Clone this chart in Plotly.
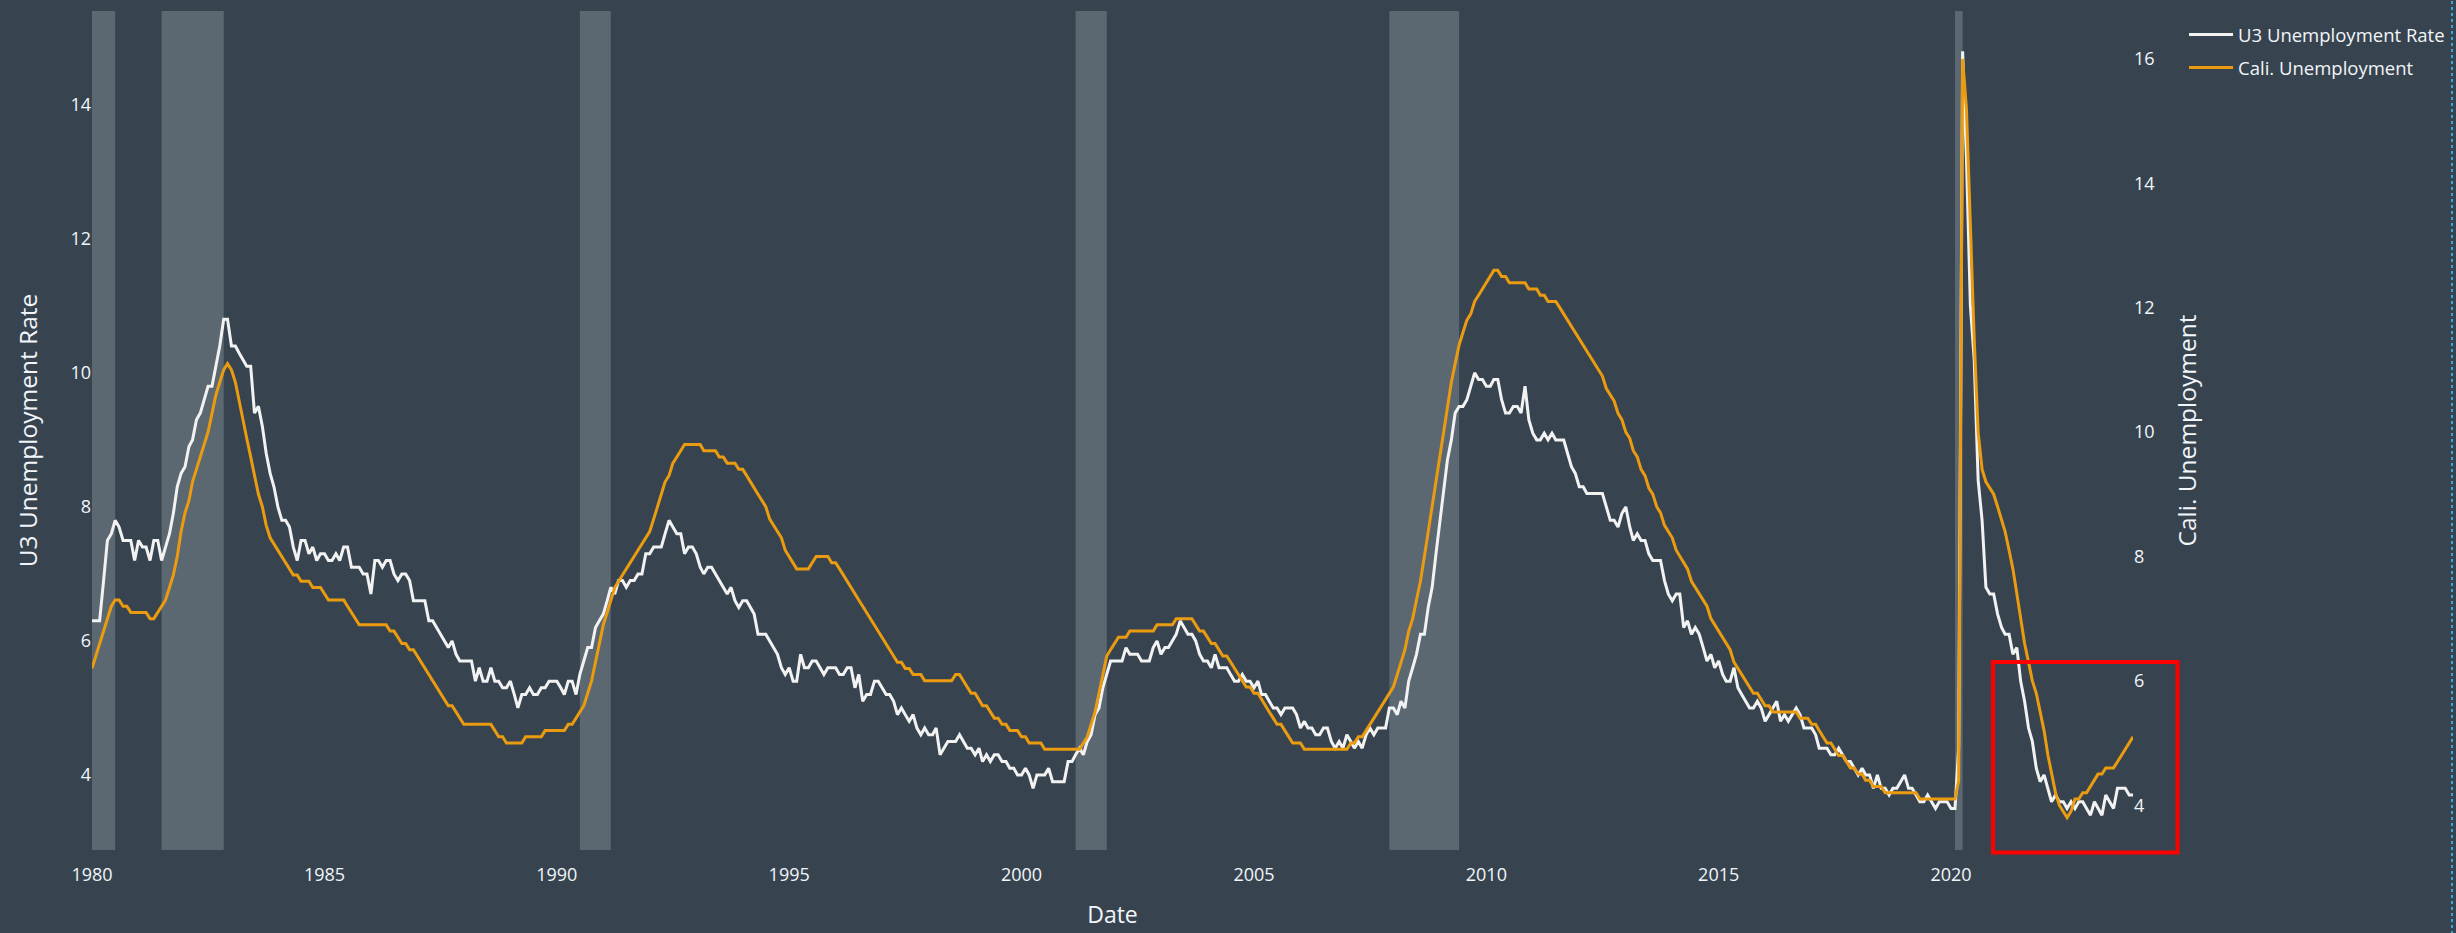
import pandas as pd
import plotly.graph_objects as go

# ---------------- data ----------------
start_month = "1980-01-01"
end_month = "2023-12-01"

u3_rate = [
    6.3, 6.3, 6.3, 6.9, 7.5, 7.6, 7.8, 7.7, 7.5, 7.5, 7.5, 7.2,   # 1980
    7.5, 7.4, 7.4, 7.2, 7.5, 7.5, 7.2, 7.4, 7.6, 7.9, 8.3, 8.5,   # 1981
    8.6, 8.9, 9.0, 9.3, 9.4, 9.6, 9.8, 9.8, 10.1, 10.4, 10.8, 10.8,  # 1982
    10.4, 10.4, 10.3, 10.2, 10.1, 10.1, 9.4, 9.5, 9.2, 8.8, 8.5, 8.3,  # 1983
    8.0, 7.8, 7.8, 7.7, 7.4, 7.2, 7.5, 7.5, 7.3, 7.4, 7.2, 7.3,   # 1984
    7.3, 7.2, 7.2, 7.3, 7.2, 7.4, 7.4, 7.1, 7.1, 7.1, 7.0, 7.0,   # 1985
    6.7, 7.2, 7.2, 7.1, 7.2, 7.2, 7.0, 6.9, 7.0, 7.0, 6.9, 6.6,   # 1986
    6.6, 6.6, 6.6, 6.3, 6.3, 6.2, 6.1, 6.0, 5.9, 6.0, 5.8, 5.7,   # 1987
    5.7, 5.7, 5.7, 5.4, 5.6, 5.4, 5.4, 5.6, 5.4, 5.4, 5.3, 5.3,   # 1988
    5.4, 5.2, 5.0, 5.2, 5.2, 5.3, 5.2, 5.2, 5.3, 5.3, 5.4, 5.4,   # 1989
    5.4, 5.3, 5.2, 5.4, 5.4, 5.2, 5.5, 5.7, 5.9, 5.9, 6.2, 6.3,   # 1990
    6.4, 6.6, 6.8, 6.7, 6.9, 6.9, 6.8, 6.9, 6.9, 7.0, 7.0, 7.3,   # 1991
    7.3, 7.4, 7.4, 7.4, 7.6, 7.8, 7.7, 7.6, 7.6, 7.3, 7.4, 7.4,   # 1992
    7.3, 7.1, 7.0, 7.1, 7.1, 7.0, 6.9, 6.8, 6.7, 6.8, 6.6, 6.5,   # 1993
    6.6, 6.6, 6.5, 6.4, 6.1, 6.1, 6.1, 6.0, 5.9, 5.8, 5.6, 5.5,   # 1994
    5.6, 5.4, 5.4, 5.8, 5.6, 5.6, 5.7, 5.7, 5.6, 5.5, 5.6, 5.6,   # 1995
    5.6, 5.5, 5.5, 5.6, 5.6, 5.3, 5.5, 5.1, 5.2, 5.2, 5.4, 5.4,   # 1996
    5.3, 5.2, 5.2, 5.1, 4.9, 5.0, 4.9, 4.8, 4.9, 4.7, 4.6, 4.7,   # 1997
    4.6, 4.6, 4.7, 4.3, 4.4, 4.5, 4.5, 4.5, 4.6, 4.5, 4.4, 4.4,   # 1998
    4.3, 4.4, 4.2, 4.3, 4.2, 4.3, 4.3, 4.2, 4.2, 4.1, 4.1, 4.0,   # 1999
    4.0, 4.1, 4.0, 3.8, 4.0, 4.0, 4.0, 4.1, 3.9, 3.9, 3.9, 3.9,   # 2000
    4.2, 4.2, 4.3, 4.4, 4.3, 4.5, 4.6, 4.9, 5.0, 5.3, 5.5, 5.7,   # 2001
    5.7, 5.7, 5.7, 5.9, 5.8, 5.8, 5.8, 5.7, 5.7, 5.7, 5.9, 6.0,   # 2002
    5.8, 5.9, 5.9, 6.0, 6.1, 6.3, 6.2, 6.1, 6.1, 6.0, 5.8, 5.7,   # 2003
    5.7, 5.6, 5.8, 5.6, 5.6, 5.6, 5.5, 5.4, 5.4, 5.5, 5.4, 5.4,   # 2004
    5.3, 5.4, 5.2, 5.2, 5.1, 5.0, 5.0, 4.9, 5.0, 5.0, 5.0, 4.9,   # 2005
    4.7, 4.8, 4.7, 4.7, 4.6, 4.6, 4.7, 4.7, 4.5, 4.4, 4.5, 4.4,   # 2006
    4.6, 4.5, 4.4, 4.5, 4.4, 4.6, 4.7, 4.6, 4.7, 4.7, 4.7, 5.0,   # 2007
    5.0, 4.9, 5.1, 5.0, 5.4, 5.6, 5.8, 6.1, 6.1, 6.5, 6.8, 7.3,   # 2008
    7.8, 8.3, 8.7, 9.0, 9.4, 9.5, 9.5, 9.6, 9.8, 10.0, 9.9, 9.9,  # 2009
    9.8, 9.8, 9.9, 9.9, 9.6, 9.4, 9.4, 9.5, 9.5, 9.4, 9.8, 9.3,   # 2010
    9.1, 9.0, 9.0, 9.1, 9.0, 9.1, 9.0, 9.0, 9.0, 8.8, 8.6, 8.5,   # 2011
    8.3, 8.3, 8.2, 8.2, 8.2, 8.2, 8.2, 8.0, 7.8, 7.8, 7.7, 7.9,   # 2012
    8.0, 7.7, 7.5, 7.6, 7.5, 7.5, 7.3, 7.2, 7.2, 7.2, 6.9, 6.7,   # 2013
    6.6, 6.7, 6.7, 6.2, 6.3, 6.1, 6.2, 6.1, 5.9, 5.7, 5.8, 5.6,   # 2014
    5.7, 5.5, 5.4, 5.4, 5.6, 5.3, 5.2, 5.1, 5.0, 5.0, 5.1, 5.0,   # 2015
    4.8, 4.9, 5.0, 5.1, 4.8, 4.9, 4.8, 4.9, 5.0, 4.9, 4.7, 4.7,   # 2016
    4.7, 4.6, 4.4, 4.4, 4.4, 4.3, 4.3, 4.4, 4.3, 4.2, 4.2, 4.1,   # 2017
    4.0, 4.1, 4.0, 4.0, 3.8, 4.0, 3.8, 3.8, 3.7, 3.8, 3.8, 3.9,   # 2018
    4.0, 3.8, 3.8, 3.7, 3.6, 3.6, 3.7, 3.6, 3.5, 3.6, 3.6, 3.6,   # 2019
    3.5, 3.5, 4.4, 14.8, 13.2, 11.0, 10.2, 8.4, 7.8, 6.8, 6.7, 6.7,  # 2020
    6.4, 6.2, 6.1, 6.1, 5.8, 5.9, 5.4, 5.1, 4.7, 4.5, 4.1, 3.9,   # 2021
    4.0, 3.8, 3.6, 3.7, 3.6, 3.6, 3.5, 3.6, 3.5, 3.6, 3.6, 3.5,   # 2022
    3.4, 3.6, 3.5, 3.4, 3.7, 3.6, 3.5, 3.8, 3.8, 3.8, 3.7, 3.7,   # 2023
]

cali_rate = [
    6.2, 6.4, 6.6, 6.8, 7.0, 7.2, 7.3, 7.3, 7.2, 7.2, 7.1, 7.1,   # 1980
    7.1, 7.1, 7.1, 7.0, 7.0, 7.1, 7.2, 7.3, 7.5, 7.7, 8.0, 8.4,   # 1981
    8.7, 8.9, 9.2, 9.4, 9.6, 9.8, 10.0, 10.3, 10.6, 10.8, 11.0, 11.1,  # 1982
    11.0, 10.8, 10.5, 10.2, 9.9, 9.6, 9.3, 9.0, 8.8, 8.5, 8.3, 8.2,  # 1983
    8.1, 8.0, 7.9, 7.8, 7.7, 7.7, 7.6, 7.6, 7.6, 7.5, 7.5, 7.5,   # 1984
    7.4, 7.3, 7.3, 7.3, 7.3, 7.3, 7.2, 7.1, 7.0, 6.9, 6.9, 6.9,   # 1985
    6.9, 6.9, 6.9, 6.9, 6.9, 6.8, 6.8, 6.7, 6.6, 6.6, 6.5, 6.5,   # 1986
    6.4, 6.3, 6.2, 6.1, 6.0, 5.9, 5.8, 5.7, 5.6, 5.6, 5.5, 5.4,   # 1987
    5.3, 5.3, 5.3, 5.3, 5.3, 5.3, 5.3, 5.3, 5.2, 5.1, 5.1, 5.0,   # 1988
    5.0, 5.0, 5.0, 5.0, 5.1, 5.1, 5.1, 5.1, 5.1, 5.2, 5.2, 5.2,   # 1989
    5.2, 5.2, 5.2, 5.3, 5.3, 5.4, 5.5, 5.6, 5.8, 6.0, 6.3, 6.6,   # 1990
    6.9, 7.1, 7.3, 7.5, 7.6, 7.7, 7.8, 7.9, 8.0, 8.1, 8.2, 8.3,   # 1991
    8.4, 8.6, 8.8, 9.0, 9.2, 9.3, 9.5, 9.6, 9.7, 9.8, 9.8, 9.8,   # 1992
    9.8, 9.8, 9.7, 9.7, 9.7, 9.7, 9.6, 9.6, 9.5, 9.5, 9.5, 9.4,   # 1993
    9.4, 9.3, 9.2, 9.1, 9.0, 8.9, 8.8, 8.6, 8.5, 8.4, 8.3, 8.1,   # 1994
    8.0, 7.9, 7.8, 7.8, 7.8, 7.8, 7.9, 8.0, 8.0, 8.0, 8.0, 7.9,   # 1995
    7.9, 7.8, 7.7, 7.6, 7.5, 7.4, 7.3, 7.2, 7.1, 7.0, 6.9, 6.8,   # 1996
    6.7, 6.6, 6.5, 6.4, 6.3, 6.3, 6.2, 6.2, 6.1, 6.1, 6.1, 6.0,   # 1997
    6.0, 6.0, 6.0, 6.0, 6.0, 6.0, 6.0, 6.1, 6.1, 6.0, 5.9, 5.8,   # 1998
    5.8, 5.7, 5.6, 5.6, 5.5, 5.4, 5.4, 5.3, 5.3, 5.2, 5.2, 5.2,   # 1999
    5.1, 5.1, 5.0, 5.0, 5.0, 5.0, 4.9, 4.9, 4.9, 4.9, 4.9, 4.9,   # 2000
    4.9, 4.9, 4.9, 4.9, 5.0, 5.1, 5.3, 5.5, 5.8, 6.1, 6.4, 6.5,   # 2001
    6.6, 6.7, 6.7, 6.7, 6.8, 6.8, 6.8, 6.8, 6.8, 6.8, 6.8, 6.9,   # 2002
    6.9, 6.9, 6.9, 6.9, 7.0, 7.0, 7.0, 7.0, 7.0, 6.9, 6.8, 6.8,   # 2003
    6.7, 6.6, 6.6, 6.5, 6.4, 6.4, 6.3, 6.2, 6.1, 6.0, 5.9, 5.9,   # 2004
    5.8, 5.8, 5.7, 5.6, 5.5, 5.4, 5.3, 5.3, 5.2, 5.1, 5.0, 5.0,   # 2005
    5.0, 4.9, 4.9, 4.9, 4.9, 4.9, 4.9, 4.9, 4.9, 4.9, 4.9, 4.9,   # 2006
    4.9, 5.0, 5.0, 5.1, 5.1, 5.2, 5.3, 5.4, 5.5, 5.6, 5.7, 5.8,   # 2007
    5.9, 6.1, 6.3, 6.5, 6.8, 7.0, 7.3, 7.6, 8.0, 8.4, 8.8, 9.2,   # 2008
    9.6, 10.0, 10.4, 10.8, 11.1, 11.4, 11.6, 11.8, 11.9, 12.1, 12.2, 12.3,  # 2009
    12.4, 12.5, 12.6, 12.6, 12.5, 12.5, 12.4, 12.4, 12.4, 12.4, 12.4, 12.3,  # 2010
    12.3, 12.3, 12.2, 12.2, 12.1, 12.1, 12.1, 12.0, 11.9, 11.8, 11.7, 11.6,  # 2011
    11.5, 11.4, 11.3, 11.2, 11.1, 11.0, 10.9, 10.7, 10.6, 10.5, 10.3, 10.2,  # 2012
    10.0, 9.9, 9.7, 9.6, 9.4, 9.3, 9.1, 9.0, 8.8, 8.7, 8.5, 8.4,   # 2013
    8.3, 8.1, 8.0, 7.9, 7.8, 7.6, 7.5, 7.4, 7.3, 7.2, 7.0, 6.9,   # 2014
    6.8, 6.7, 6.6, 6.5, 6.3, 6.2, 6.1, 6.0, 5.9, 5.8, 5.8, 5.7,   # 2015
    5.6, 5.6, 5.5, 5.5, 5.5, 5.5, 5.5, 5.5, 5.5, 5.4, 5.4, 5.4,   # 2016
    5.3, 5.3, 5.2, 5.1, 5.0, 5.0, 4.9, 4.8, 4.8, 4.7, 4.6, 4.6,   # 2017
    4.5, 4.5, 4.4, 4.4, 4.3, 4.3, 4.3, 4.2, 4.2, 4.2, 4.2, 4.2,   # 2018
    4.2, 4.2, 4.2, 4.2, 4.1, 4.1, 4.1, 4.1, 4.1, 4.1, 4.1, 4.1,   # 2019
    4.1, 4.1, 4.4, 16.0, 15.2, 13.3, 11.5, 10.0, 9.4, 9.2, 9.1, 9.0,  # 2020
    8.8, 8.6, 8.4, 8.1, 7.8, 7.4, 7.0, 6.6, 6.3, 6.0, 5.8, 5.5,   # 2021
    5.2, 4.8, 4.5, 4.2, 4.0, 3.9, 3.8, 3.9, 4.1, 4.1, 4.2, 4.2,   # 2022
    4.3, 4.4, 4.5, 4.5, 4.6, 4.6, 4.6, 4.7, 4.8, 4.9, 5.0, 5.1,   # 2023
]

recession_starts = ["1980-01-01", "1981-07-01", "1990-07-01", "2001-03-01", "2007-12-01", "2020-02-01"]
recession_ends = ["1980-07-01", "1982-11-01", "1991-03-01", "2001-11-01", "2009-06-01", "2020-04-01"]

left_ticks = [4, 6, 8, 10, 12, 14]
right_ticks = [4, 6, 8, 10, 12, 14, 16]
year_ticks = ["1980", "1985", "1990", "1995", "2000", "2005", "2010", "2015", "2020"]

# ---------------- style ----------------
BG = "#37444f"
TXT = "#f2f5fa"
ORANGE = "#eb9b0f"
WHITE = "#f2f2f2"
FONT = "Open Sans"

dates = pd.date_range(start_month, end_month, freq="MS")

fig = go.Figure()
fig.add_trace(go.Scatter(x=dates, y=u3_rate, mode="lines", name="U3 Unemployment Rate",
                         legendgroup="u3", line=dict(color=WHITE, width=3), yaxis="y"))
fig.add_trace(go.Scatter(x=dates, y=cali_rate, mode="lines", name="Cali. Unemployment",
                         legendgroup="ca", line=dict(color=ORANGE, width=3), yaxis="y2"))

shapes = []
for s, e in zip(recession_starts, recession_ends):
    shapes.append(dict(type="rect", xref="x", yref="paper", x0=s, x1=e, y0=0, y1=1,
                       fillcolor="#5c6871", line=dict(width=0), layer="below"))
# red highlight box
shapes.append(dict(type="rect", xref="paper", yref="paper", x0=0.9314, x1=1.0218,
                   y0=-0.003, y1=0.224, line=dict(color="#ff0000", width=4),
                   fillcolor="rgba(0,0,0,0)", layer="above"))
# dotted border at the right edge of the capture
shapes.append(dict(type="line", xref="paper", yref="paper", x0=1.1563, x1=1.1563,
                   y0=-0.1, y1=1.02, line=dict(color="#3da3d8", width=2, dash="dot")))

fig.update_layout(
    width=2456, height=933,
    paper_bgcolor=BG, plot_bgcolor=BG,
    font=dict(family=FONT, color=TXT, size=18),
    margin=dict(l=92, r=323, t=11, b=83, autoexpand=False),
    showlegend=True,
    legend=dict(x=1.025, y=0.994, xanchor="left", yanchor="top", bgcolor="rgba(0,0,0,0)",
                itemwidth=44, tracegroupgap=6, traceorder="grouped",
                font=dict(size=18.5, color=TXT, family=FONT)),
    shapes=shapes,
    xaxis=dict(range=[start_month, end_month], showgrid=False, zeroline=False, showline=False,
               automargin=False,
               tickvals=[y + "-01-01" for y in year_ticks], ticktext=year_ticks,
               ticks="outside", ticklen=8, tickcolor="rgba(0,0,0,0)",
               tickfont=dict(size=18, color=TXT),
               title=dict(text="Date", font=dict(size=23, color=TXT), standoff=22)),
    yaxis=dict(range=[2.88, 15.40], showgrid=False, zeroline=False, showline=False,
               automargin=False,
               tickvals=left_ticks, tickfont=dict(size=18, color=TXT),
               title=dict(text="U3 Unemployment Rate", font=dict(size=24.5, color=TXT), standoff=25)),
    yaxis2=dict(range=[3.28, 16.77], overlaying="y", side="right", showgrid=False,
                automargin=False,
                zeroline=False, showline=False, tickvals=right_ticks,
                tickfont=dict(size=18, color=TXT),
                title=dict(text="Cali. Unemployment", font=dict(size=24.5, color=TXT), standoff=25)),
)

fig.write_html("out.html", config={"displayModeBar": False},
               post_script="document.body.style.margin='0px';")
